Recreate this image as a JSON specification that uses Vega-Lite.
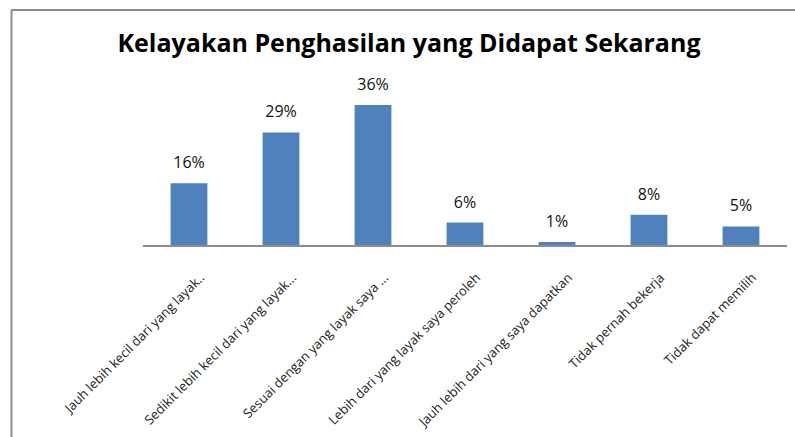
{
  "$schema": "https://vega.github.io/schema/vega-lite/v6.json",
  "width": 784,
  "height": 427,
  "autosize": {"type": "none"},
  "padding": {"left": 11, "top": 10, "right": 0, "bottom": 0},
  "background": "white",
  "title": {
    "text": "Kelayakan Penghasilan yang Didapat Sekarang",
    "font": "Open Sans",
    "fontSize": 25,
    "fontWeight": "bold",
    "color": "#000000",
    "anchor": "middle",
    "frame": "group",
    "dx": 6,
    "offset": -48
  },
  "data": {
    "values": [
      {"kategori": "Jauh lebih kecil dari yang layak..", "persen": 16, "label": "16%"},
      {"kategori": "Sedikit lebih kecil dari yang  layak...", "persen": 29, "label": "29%"},
      {"kategori": "Sesuai dengan yang layak saya ...", "persen": 36, "label": "36%"},
      {"kategori": "Lebih dari yang layak saya peroleh", "persen": 6, "label": "6%"},
      {"kategori": "Jauh lebih dari yang saya dapatkan", "persen": 1, "label": "1%"},
      {"kategori": "Tidak pernah bekerja", "persen": 8, "label": "8%"},
      {"kategori": "Tidak dapat memilih", "persen": 5, "label": "5%"}
    ]
  },
  "encoding": {
    "y": {
      "field": "persen",
      "type": "quantitative",
      "scale": {"domain": [-48.75, 60.25], "nice": false, "zero": false},
      "axis": {
        "labels": false,
        "ticks": false,
        "title": null,
        "domain": true,
        "domainColor": "#8c8c8c",
        "domainWidth": 2,
        "grid": false
      }
    }
  },
  "layer": [
    {
      "encoding": {
        "x": {
          "field": "kategori",
          "type": "nominal",
          "sort": null,
          "title": null,
          "scale": {"range": [132, 776], "paddingInner": 0.6, "paddingOuter": 0.3},
          "axis": {
            "offset": -191,
            "labelAngle": -45,
            "labelFont": "Open Sans",
            "labelFontSize": 13,
            "labelColor": "#222222",
            "labelOffset": 9,
            "labelPadding": 25,
            "labelLimit": 400,
            "ticks": false,
            "domain": false,
            "grid": false
          }
        }
      },
      "layer": [
        {"mark": {"type": "bar", "color": "#4F81BD"}},
        {
          "mark": {"type": "text", "baseline": "alphabetic", "dy": -15, "font": "Open Sans", "fontSize": 16, "color": "#111111"},
          "encoding": {"text": {"field": "label"}}
        },
        {
          "mark": {"type": "rule", "color": "#8c8c8c", "strokeWidth": 2},
          "encoding": {
            "x": {"datum": "Jauh lebih kecil dari yang layak..", "bandPosition": -0.75},
            "x2": {"datum": "Tidak dapat memilih", "bandPosition": 1.75},
            "y": {"datum": 0}
          }
        }
      ]
    },
    {
      "mark": {"type": "rule", "color": "#8c8c8c", "strokeWidth": 2},
      "encoding": {"y": {"datum": 60.25}}
    }
  ],
  "config": {"view": {"stroke": null}}
}
